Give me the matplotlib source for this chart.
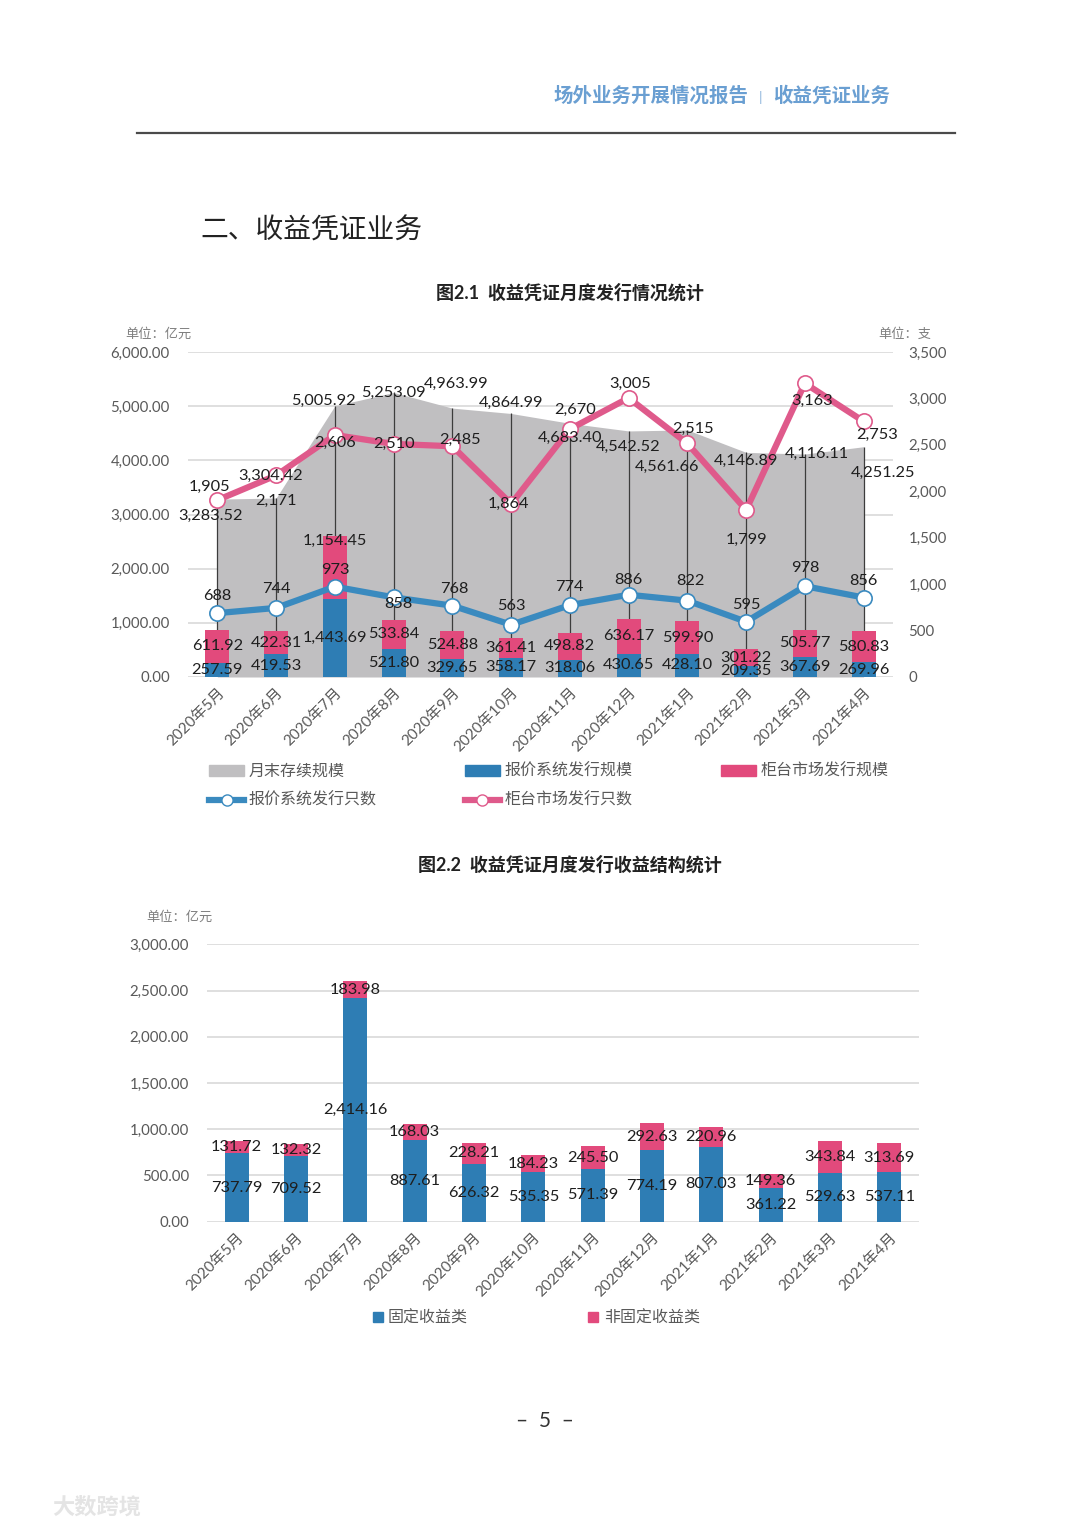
import numpy as np
import matplotlib.pyplot as plt
from matplotlib.patches import Patch
from matplotlib.lines import Line2D

plt.rcParams['font.family'] = ['Lato', 'Noto Sans CJK SC', 'DejaVu Sans']

# ---- data ----
months = ['2020年5月', '2020年6月', '2020年7月', '2020年8月', '2020年9月', '2020年10月',
          '2020年11月', '2020年12月', '2021年1月', '2021年2月', '2021年3月', '2021年4月']

# 图2.1
stock = [3283.52, 3304.42, 5005.92, 5253.09, 4963.99, 4864.99,
         4683.40, 4542.52, 4561.66, 4146.89, 4116.11, 4251.25]   # 月末存续规模
quote_amt = [257.59, 419.53, 1443.69, 521.80, 329.65, 358.17,
             318.06, 430.65, 428.10, 209.35, 367.69, 269.96]     # 报价系统发行规模
otc_amt = [611.92, 422.31, 1154.45, 533.84, 524.88, 361.41,
           498.82, 636.17, 599.90, 301.22, 505.77, 580.83]       # 柜台市场发行规模
quote_cnt = [688, 744, 973, 858, 768, 563, 774, 886, 822, 595, 978, 856]            # 报价系统发行只数
otc_cnt = [1905, 2171, 2606, 2510, 2485, 1864, 2670, 3005, 2515, 1799, 3163, 2753]  # 柜台市场发行只数

# 图2.2
fixed = [737.79, 709.52, 2414.16, 887.61, 626.32, 535.35,
         571.39, 774.19, 807.03, 361.22, 529.63, 537.11]         # 固定收益类
nonfixed = [131.72, 132.32, 183.98, 168.03, 228.21, 184.23,
            245.50, 292.63, 220.96, 149.36, 343.84, 313.69]      # 非固定收益类

# label nudges in pixels (dx right, dy down)
stock_off = [(-7, 17), (-6, -22), (-11, -5), (0, 0), (4, -24), (0, -11),
             (0, 15), (0, 16), (-20, 37), (0, 9), (12, 0), (19, 26)]
otc_off = [(-8, -13), (0, 25), (0, 8), (0, 0), (8, -6), (-3, 0),
           (5, -19), (2, -14), (6, -15), (0, 30), (7, 18), (13, 14)]
quote_off = [(0, -17), (0, -19), (0, -17), (5, 7), (2, -17), (0, -19),
             (0, -18), (0, -15), (3, -20), (0, -17), (0, -18), (0, -17)]

C_BLUE = '#2e7db4'
C_PINK = '#e24a7c'
C_LBLUE = '#3a8abf'
C_LPINK = '#df5a8b'
C_GRAY = '#c0bfc1'
C_TICK = '#595959'
C_LBL = '#1e1e1e'
LBL_FS = 11.8

W, H = 1080, 1527
fig = plt.figure(figsize=(W / 100, H / 100), dpi=100)


def fx(px):
    return px / W


def fy(py):
    return 1 - py / H


# ---- page header ----
fig.text(fx(749), fy(96), '场外业务开展情况报告', ha='right', va='center',
         fontsize=14, fontweight='bold', color='#6a9fd2', family='Noto Sans CJK SC')
fig.text(fx(761), fy(98), '|', ha='center', va='center', fontsize=10, color='#8fb5dc')
fig.text(fx(773), fy(96), '收益凭证业务', ha='left', va='center',
         fontsize=14, fontweight='bold', color='#6a9fd2', family='Noto Sans CJK SC')
fig.add_artist(Line2D([fx(137), fx(955)], [fy(133), fy(133)], color='#4a4a4a', lw=1.6))
fig.text(fx(200), fy(231), '二、收益凭证业务', ha='left', va='center',
         fontsize=20, color='#222222', family='Noto Sans CJK SC')

fig.text(fx(570), fy(292), '图2.1  收益凭证月度发行情况统计', ha='center', va='center',
         fontsize=13, fontweight='bold', color='#222222')
fig.text(fx(570), fy(864), '图2.2  收益凭证月度发行收益结构统计', ha='center', va='center',
         fontsize=13, fontweight='bold', color='#222222')

x = np.arange(len(months))

# ---- 图2.1 ----
ax1 = fig.add_axes([fx(188), fy(677), (893 - 188) / W, 325 / H])
ax1r = ax1.twinx()

ax1.fill_between(x, stock, color=C_GRAY, lw=0, zorder=1)
ax1.vlines(x, 0, stock, color='#3c3c3c', lw=0.9, zorder=2)
ax1.bar(x, quote_amt, width=0.41, color=C_BLUE, zorder=3)
ax1.bar(x, otc_amt, width=0.41, bottom=quote_amt, color=C_PINK, zorder=3)

ax1r.plot(x, quote_cnt, color=C_LBLUE, lw=4.5, marker='o', ms=11,
          mfc='white', mec=C_LBLUE, mew=1.2, zorder=4)
ax1r.plot(x, otc_cnt, color=C_LPINK, lw=4.5, marker='o', ms=11,
          mfc='white', mec=C_LPINK, mew=1.2, zorder=4)

ax1.set_xlim(-0.5, len(months) - 0.5)
ax1.set_ylim(0, 6000)
ax1r.set_ylim(0, 3500)
ax1.set_yticks(np.arange(0, 6001, 1000))
ax1.set_yticklabels([f'{v:,.2f}' for v in np.arange(0, 6001, 1000)])
ax1r.set_yticks(np.arange(0, 3501, 500))
ax1r.set_yticklabels([f'{v:,}' for v in np.arange(0, 3501, 500)])
ax1.yaxis.grid(True, color='#d9d9d9', lw=1.2)
ax1.set_axisbelow(True)
for a in (ax1, ax1r):
    for s in a.spines.values():
        s.set_visible(False)
ax1.tick_params(axis='y', length=0, pad=13, labelsize=10.8, labelcolor=C_TICK)
ax1r.tick_params(axis='y', length=0, pad=11, labelsize=10.8, labelcolor=C_TICK)
ax1.set_xticks(x)
ax1.set_xticklabels(months, rotation=45, ha='right', rotation_mode='anchor')
ax1.tick_params(axis='x', length=0, pad=6, labelsize=11, labelcolor=C_TICK)

k = 0.72
for i in x:
    ax1r.annotate(f'{stock[i]:,.2f}', (i, stock[i]), xycoords=ax1.transData,
                  xytext=(stock_off[i][0] * k, -stock_off[i][1] * k), textcoords='offset points',
                  ha='center', va='center', fontsize=LBL_FS, color=C_LBL, zorder=6)
    ax1r.annotate(f'{otc_cnt[i]:,}', (i, otc_cnt[i]),
                  xytext=(otc_off[i][0] * k, -otc_off[i][1] * k), textcoords='offset points',
                  ha='center', va='center', fontsize=LBL_FS, color=C_LBL, zorder=6)
    ax1r.annotate(f'{quote_cnt[i]:,}', (i, quote_cnt[i]),
                  xytext=(quote_off[i][0] * k, -quote_off[i][1] * k), textcoords='offset points',
                  ha='center', va='center', fontsize=LBL_FS, color=C_LBL, zorder=6)
    ax1r.annotate(f'{quote_amt[i]:,.2f}', (i, quote_amt[i] / 2), xycoords=ax1.transData,
                  ha='center', va='center', fontsize=LBL_FS, color=C_LBL, zorder=6)
    dy = -27 if otc_amt[i] > 1000 else 0
    ax1r.annotate(f'{otc_amt[i]:,.2f}', (i, quote_amt[i] + otc_amt[i] / 2), xycoords=ax1.transData,
                  xytext=(0, -dy * k), textcoords='offset points',
                  ha='center', va='center', fontsize=LBL_FS, color=C_LBL, zorder=6)

fig.text(fx(158), fy(333), '单位：亿元', ha='center', va='center', fontsize=9.5, color='#7f7f7f')
fig.text(fx(905), fy(334), '单位：支', ha='center', va='center', fontsize=9.5, color='#7f7f7f')

h1 = [Patch(color=C_GRAY),
      Line2D([], [], color=C_LBLUE, lw=4.5, marker='o', ms=8, mfc='white', mec=C_LBLUE),
      Patch(color=C_BLUE),
      Line2D([], [], color=C_LPINK, lw=4.5, marker='o', ms=8, mfc='white', mec=C_LPINK),
      Patch(color=C_PINK)]
l1 = ['月末存续规模', '报价系统发行只数', '报价系统发行规模', '柜台市场发行只数', '柜台市场发行规模']
fig.legend(h1, l1, loc='center left', bbox_to_anchor=(fx(209), fy(786)), ncol=3,
           frameon=False, labelcolor=C_TICK, handlelength=2.2,
           handleheight=0.65, handletextpad=0.3, columnspacing=5.5, labelspacing=0.75,
           borderpad=0, borderaxespad=0, prop={'family': 'Noto Sans CJK SC', 'size': 11.5})

# ---- 图2.2 ----
ax2 = fig.add_axes([fx(207), fy(1221.7), 712 / W, 277.4 / H])
ax2.bar(x, fixed, width=0.4, color=C_BLUE, zorder=3)
ax2.bar(x, nonfixed, width=0.4, bottom=fixed, color=C_PINK, zorder=3)
ax2.set_xlim(-0.5, len(months) - 0.5)
ax2.set_ylim(0, 3000)
ax2.set_yticks(np.arange(0, 3001, 500))
ax2.set_yticklabels([f'{v:,.2f}' for v in np.arange(0, 3001, 500)])
ax2.yaxis.grid(True, color='#d9d9d9', lw=1.2)
ax2.set_axisbelow(True)
for s in ax2.spines.values():
    s.set_visible(False)
ax2.tick_params(axis='y', length=0, pad=13, labelsize=10.8, labelcolor=C_TICK)
ax2.set_xticks(x)
ax2.set_xticklabels(months, rotation=45, ha='right', rotation_mode='anchor')
ax2.tick_params(axis='x', length=0, pad=6, labelsize=11, labelcolor=C_TICK)

for i in x:
    ax2.text(i, fixed[i] / 2, f'{fixed[i]:,.2f}', ha='center', va='center',
             fontsize=LBL_FS, color=C_LBL, zorder=5)
    ax2.text(i, fixed[i] + nonfixed[i] / 2, f'{nonfixed[i]:,.2f}', ha='center', va='center',
             fontsize=LBL_FS, color=C_LBL, zorder=5)

fig.text(fx(179), fy(916), '单位：亿元', ha='center', va='center', fontsize=9.5, color='#7f7f7f')

h2 = [Line2D([], [], ls='', marker='s', ms=7, color=C_BLUE),
      Line2D([], [], ls='', marker='s', ms=7, color=C_PINK)]
fig.legend(h2, ['固定收益类', '非固定收益类'], loc='center left', bbox_to_anchor=(fx(372), fy(1318)),
           ncol=2, frameon=False, labelcolor=C_TICK, handlelength=0.7, handletextpad=0.3,
           columnspacing=7.5, borderpad=0, borderaxespad=0,
           prop={'family': 'Noto Sans CJK SC', 'size': 11.5})

# ---- footer ----
fig.text(fx(545), fy(1421), '–  5  –', ha='center', va='center', fontsize=15, color='#333333')
fig.text(fx(52), fy(1507), '大数跨境', ha='left', va='center', fontsize=16, fontweight='bold',
         color='#e4e4e4', family='Noto Sans CJK SC')

fig.savefig('out.png', dpi=100, facecolor='white')
